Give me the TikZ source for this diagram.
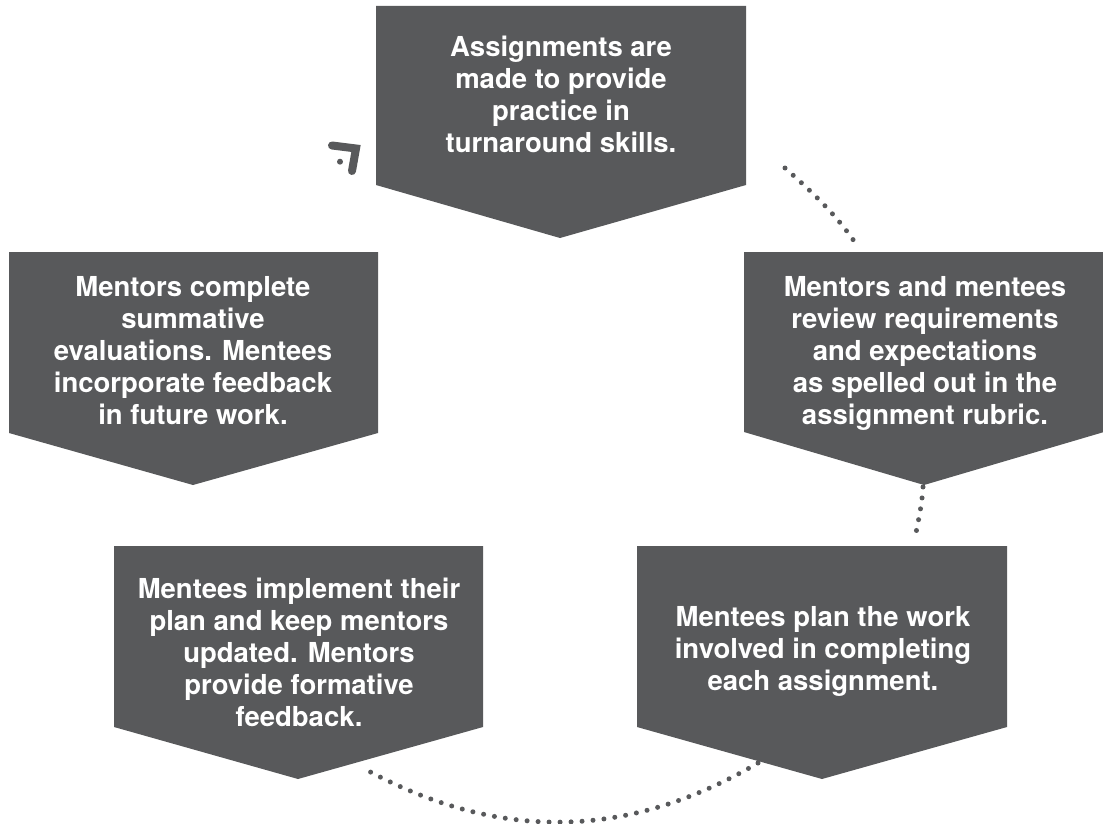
\documentclass[tikz,border=0pt]{standalone}
\usepackage{fontspec}
\setmainfont{TeX Gyre Heros}
\definecolor{boxgray}{HTML}{58595B}
\begin{document}
\begin{tikzpicture}[x=1pt,y=-1pt,
  stepfill/.style={fill=boxgray},
  steptext/.style={text=white, font=\bfseries\fontsize{27.5}{32}\selectfont,
                   align=center, inner sep=0pt},
  dotline/.style={draw=boxgray, line width=5pt, line cap=round,
                  dash pattern=on 0pt off 11pt},
  tipstroke/.style={draw=boxgray, line width=8pt, line cap=round, line join=miter}]
\useasboundingbox (0,0) rectangle (1103,824);

% downward chevron boxes
\fill[stepfill] (376,6) -- (746,6) -- (746,185) -- (560,238) -- (376,185) -- cycle;
\fill[stepfill] (9,252) -- (378,252) -- (378,433) -- (193,485) -- (9,433) -- cycle;
\fill[stepfill] (744,252) -- (1104,252) -- (1104,432) -- (924,485) -- (744,432) -- cycle;
\fill[stepfill] (114,546) -- (483,546) -- (483,727) -- (298,779) -- (114,727) -- cycle;
\fill[stepfill] (637,546) -- (1007,546) -- (1007,727) -- (822,779) -- (637,727) -- cycle;

% step texts
\node[steptext] (s1) at (561,94.1) {Assignments are\\made to provide\\practice in\\turnaround skills.};
\node[steptext] (s2) at (925,353.1) {Mentors and mentees\\review requirements\\and expectations\\as spelled out in the\\assignment rubric.};
\node[steptext] (s3) at (823,651.1) {Mentees plan the work\\involved in completing\\each assignment.};
\node[steptext] (s4) at (299,652.1) {Mentees implement their\\plan and keep mentors\\updated. Mentors\\provide formative\\feedback.};
\node[steptext] (s5) at (193,350.1) {Mentors complete\\summative\\evaluations. Mentees\\incorporate feedback\\in future work.};

% dotted links between the steps
\coordinate (l1a) at (785,168);
\coordinate (l1b) at (858,247);
\draw[dotline] (l1a) .. controls (811,191) and (838,216) .. (l1b);

\coordinate (l2a) at (923,487);
\coordinate (l2b) at (915,538);
\draw[dotline] (l2a) .. controls (922,505) and (918,522) .. (l2b);

\coordinate (l3a) at (758,763);
\coordinate (l3b) at (363,768);
\draw[dotline] (l3a) .. controls (625,841) and (496,841) .. (l3b);

% arrow tip leading back into the first step
\coordinate (tipL) at (332,145.5);
\coordinate (tipC) at (356,148.5);
\coordinate (tipR) at (352,171);
\coordinate (tipdot) at (340,161.7);
\draw[tipstroke] (tipL) -- (tipC) -- (tipR);
\fill[boxgray] (tipdot) circle (3);
\end{tikzpicture}
\end{document}
